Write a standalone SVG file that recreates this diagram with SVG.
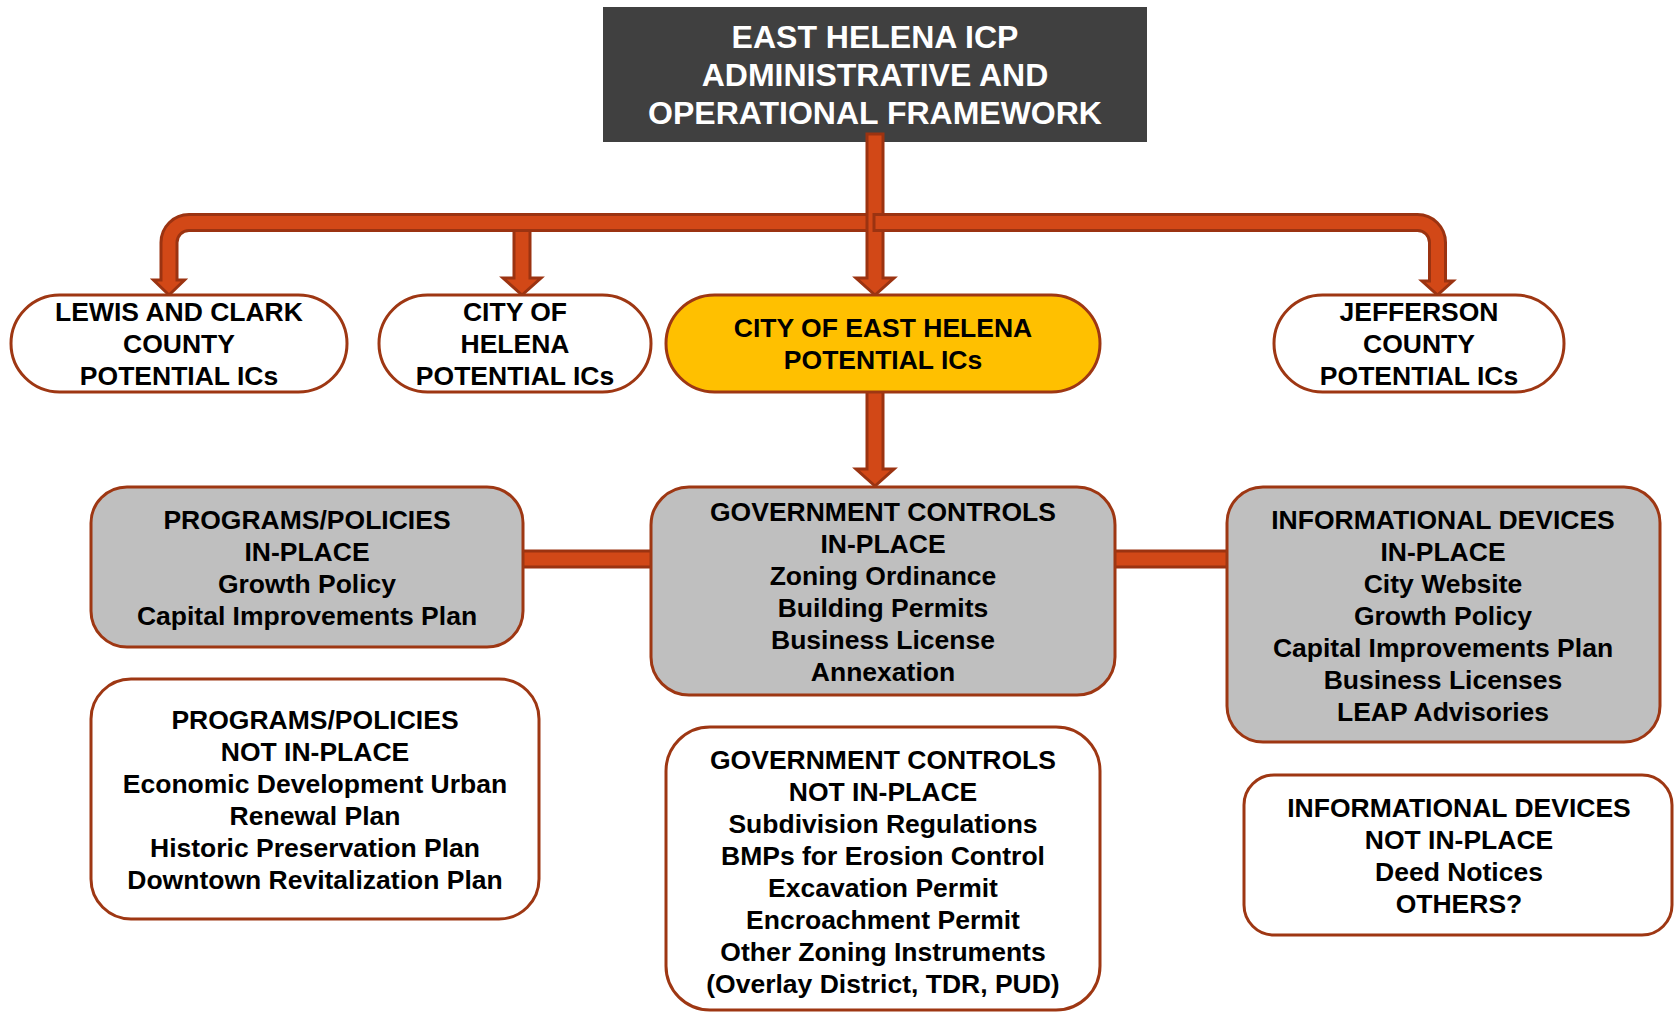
<svg xmlns="http://www.w3.org/2000/svg" width="1674" height="1012" viewBox="0 0 1674 1012">
<style>
.arrow{fill:#D24817;stroke:#9B3311;stroke-width:3;stroke-linejoin:miter}
.box{stroke:#9E3713;stroke-width:3}
.white{fill:#FFFFFF}
.gray{fill:#BFBFBF}
.yellow{fill:#FFC000}
text{font-family:"Liberation Sans",Arial,sans-serif;font-weight:bold;font-size:26.5px;fill:#000;text-anchor:middle}
.title{font-size:32px;fill:#FFFFFF}
</style>
<rect width="1674" height="1012" fill="#FFFFFF"/>

<g id="title">
<rect x="603" y="7" width="544" height="135" fill="#404040"/>
<text class="title" x="875" y="48">EAST HELENA ICP</text>
<text class="title" x="875" y="86">ADMINISTRATIVE AND</text>
<text class="title" x="875" y="124">OPERATIONAL FRAMEWORK</text>
</g>

<g id="connectors">
<path class="arrow" d="M875 214.5 H189 A28 28 0 0 0 161 242.5 V280 H153.5 L169 295 L184.5 280 H177 V242.5 A12 12 0 0 1 189 230.5 H875"/>
<path class="arrow" d="M867 134 V278 H856 L875 295 L894 278 H883 V134 Z"/>
<path class="arrow" d="M874 214.5 H1417.5 A28 28 0 0 1 1445.5 242.5 V281 H1453 L1437.5 295 L1422 281 H1429.5 V242.5 A12 12 0 0 0 1417.5 230.5 H874 Z"/>
<path class="arrow" d="M514 232 V278 H503 L522 295 L541 278 H530 V232"/>
<path class="arrow" d="M867 393 V469 H856 L875 486 L894 469 H883 V393"/>
<rect class="arrow" x="518" y="551" width="138" height="16"/>
<rect class="arrow" x="1110" y="551" width="122" height="16"/>
</g>

<g id="lewis-clark">
<rect class="box white" x="11" y="295" width="336" height="97" rx="48.5"/>
<text x="179" y="321">LEWIS AND CLARK</text>
<text x="179" y="353">COUNTY</text>
<text x="179" y="385">POTENTIAL ICs</text>
</g>

<g id="city-helena">
<rect class="box white" x="379" y="295" width="272" height="97" rx="48.5"/>
<text x="515" y="321">CITY OF</text>
<text x="515" y="353">HELENA</text>
<text x="515" y="385">POTENTIAL ICs</text>
</g>

<g id="city-east-helena">
<rect class="box yellow" x="666" y="295" width="434" height="97" rx="48.5"/>
<text x="883" y="337">CITY OF EAST HELENA</text>
<text x="883" y="369">POTENTIAL ICs</text>
</g>

<g id="jefferson">
<rect class="box white" x="1274" y="295" width="290" height="97" rx="48.5"/>
<text x="1419" y="321">JEFFERSON</text>
<text x="1419" y="353">COUNTY</text>
<text x="1419" y="385">POTENTIAL ICs</text>
</g>

<g id="programs-in-place">
<rect class="box gray" x="91" y="487" width="432" height="160" rx="36"/>
<text x="307" y="529">PROGRAMS/POLICIES</text>
<text x="307" y="561">IN-PLACE</text>
<text x="307" y="593">Growth Policy</text>
<text x="307" y="625">Capital Improvements Plan</text>
</g>

<g id="gov-in-place">
<rect class="box gray" x="651" y="487" width="464" height="208" rx="38"/>
<text x="883" y="521">GOVERNMENT CONTROLS</text>
<text x="883" y="553">IN-PLACE</text>
<text x="883" y="585">Zoning Ordinance</text>
<text x="883" y="617">Building Permits</text>
<text x="883" y="649">Business License</text>
<text x="883" y="681">Annexation</text>
</g>

<g id="info-in-place">
<rect class="box gray" x="1227" y="487" width="433" height="255" rx="36"/>
<text x="1443" y="529">INFORMATIONAL DEVICES</text>
<text x="1443" y="561">IN-PLACE</text>
<text x="1443" y="593">City Website</text>
<text x="1443" y="625">Growth Policy</text>
<text x="1443" y="657">Capital Improvements Plan</text>
<text x="1443" y="689">Business Licenses</text>
<text x="1443" y="721">LEAP Advisories</text>
</g>

<g id="programs-not-in-place">
<rect class="box white" x="91" y="679" width="448" height="240" rx="40"/>
<text x="315" y="729">PROGRAMS/POLICIES</text>
<text x="315" y="761">NOT IN-PLACE</text>
<text x="315" y="793">Economic Development Urban</text>
<text x="315" y="825">Renewal Plan</text>
<text x="315" y="857">Historic Preservation Plan</text>
<text x="315" y="889">Downtown Revitalization Plan</text>
</g>

<g id="gov-not-in-place">
<rect class="box white" x="666" y="727" width="434" height="283" rx="44"/>
<text x="883" y="769">GOVERNMENT CONTROLS</text>
<text x="883" y="801">NOT IN-PLACE</text>
<text x="883" y="833">Subdivision Regulations</text>
<text x="883" y="865">BMPs for Erosion Control</text>
<text x="883" y="897">Excavation Permit</text>
<text x="883" y="929">Encroachment Permit</text>
<text x="883" y="961">Other Zoning Instruments</text>
<text x="883" y="993">(Overlay District, TDR, PUD)</text>
</g>

<g id="info-not-in-place">
<rect class="box white" x="1244" y="775" width="428" height="160" rx="30"/>
<text x="1459" y="817">INFORMATIONAL DEVICES</text>
<text x="1459" y="849">NOT IN-PLACE</text>
<text x="1459" y="881">Deed Notices</text>
<text x="1459" y="913">OTHERS?</text>
</g>
</svg>
